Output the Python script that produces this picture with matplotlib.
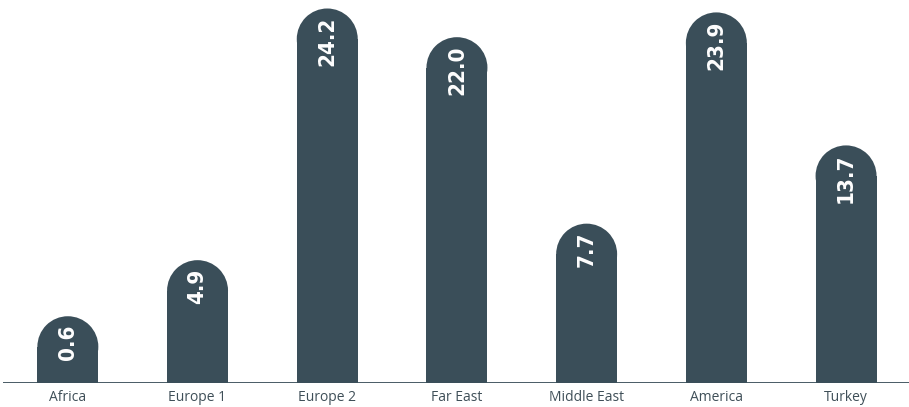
#!/usr/bin/env python3
"""Regional share bars with rounded tops and in-bar value labels."""

import matplotlib
matplotlib.use("Agg")
import matplotlib.pyplot as plt
from matplotlib.patches import Ellipse, Rectangle

REGIONS = ["Africa", "Europe 1", "Europe 2", "Far East", "Middle East", "America", "Turkey"]
SHARES = [0.6, 4.9, 24.2, 22.0, 7.7, 23.9, 13.7]
VALUE_LABELS = ["0.6", "4.9", "24.2", "22.0", "7.7", "23.9", "13.7"]

BAR_COLOR = "#3a4e59"
TEXT_COLOR = "#3f4f58"

W, H, DPI = 909, 407, 100
BASE_PX = 24          # baseline height above the bottom edge
PX_PER_UNIT = 13.04   # vertical scale
FLOOR = -4.52         # bars start below zero so short bars stay readable
BAR_W = 0.47

fig = plt.figure(figsize=(W / DPI, H / DPI), dpi=DPI)
ax = fig.add_axes([3 / W, BASE_PX / H, 1 - 3 / W, 1 - BASE_PX / H])

xmax = -0.5 + (W - 3) / 129.7
ymax = FLOOR + (H - BASE_PX) / PX_PER_UNIT
ax.set_xlim(-0.5, xmax)
ax.set_ylim(FLOOR, ymax)

# rounded cap: an ellipse in data units that renders as a circle
x_per_px = (xmax + 0.5) / (W - 3)
cap_h = BAR_W / x_per_px / PX_PER_UNIT

for i, (v, lab) in enumerate(zip(SHARES, VALUE_LABELS)):
    top = v - cap_h / 2
    ax.add_patch(Rectangle((i - BAR_W / 2, FLOOR), BAR_W, top - FLOOR,
                           facecolor=BAR_COLOR, edgecolor="none", zorder=2))
    ax.add_patch(Ellipse((i, top), BAR_W, cap_h,
                         facecolor=BAR_COLOR, edgecolor="none", zorder=2))
    ax.annotate(lab, (i, v), xytext=(0, -6), textcoords="offset points",
                rotation=90, ha="center", va="top", color="white",
                fontsize=16, fontweight="bold", fontstretch="condensed",
                family="DejaVu Sans", zorder=3)

ax.axhline(FLOOR, color=BAR_COLOR, linewidth=1.3, zorder=4)

for s in ax.spines.values():
    s.set_visible(False)
ax.set_yticks([])
ax.set_xticks(range(len(REGIONS)))
ax.set_xticklabels(REGIONS, fontsize=10, color=TEXT_COLOR, family="Open Sans")
ax.tick_params(axis="x", length=0, pad=5)

fig.savefig("out.png", dpi=DPI)
